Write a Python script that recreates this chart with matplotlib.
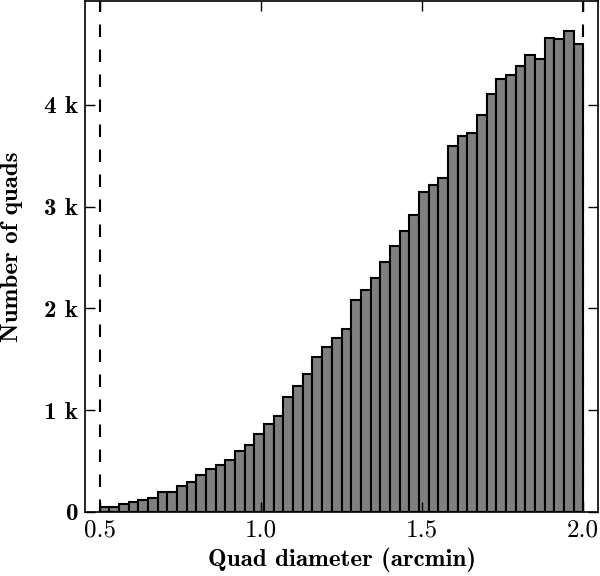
import matplotlib.pyplot as plt
import numpy as np

bin_lo = 0.5
bin_width = 0.03
# counts per bin, in thousands
counts_k = [0.05, 0.05, 0.08, 0.10, 0.12, 0.14, 0.20, 0.20, 0.26, 0.29,
            0.36, 0.42, 0.46, 0.51, 0.60, 0.66, 0.77, 0.86, 0.94, 1.13,
            1.24, 1.36, 1.52, 1.62, 1.71, 1.80, 2.08, 2.18, 2.30, 2.46,
            2.61, 2.76, 2.92, 3.14, 3.21, 3.28, 3.60, 3.69, 3.72, 3.90,
            4.11, 4.25, 4.29, 4.38, 4.49, 4.45, 4.66, 4.65, 4.73, 4.60]
counts = np.array(counts_k) * 1000
limits = [0.5, 2.0]
yticks = [0, 1000, 2000, 3000, 4000]
ytick_labels = ["0", "1 k", "2 k", "3 k", "4 k"]
xticks = [0.5, 1.0, 1.5, 2.0]

fig = plt.figure(figsize=(6, 5.76), dpi=100)
ax = fig.add_axes([85 / 600, 1 - 512 / 576, 513 / 600, 511 / 576])

lefts = bin_lo + bin_width * np.arange(len(counts))
ax.bar(lefts, counts, width=bin_width, align="edge", color="#808080",
       edgecolor="black", linewidth=1.5)
for x in limits:
    ax.axvline(x, color="black", linestyle=(0, (6, 6)), linewidth=1.5)

ax.set_xlim(0.454, 2.046)
ax.set_ylim(0, 5020)
ax.set_xticks(xticks)
ax.set_xticklabels([f"{v:.1f}" for v in xticks], family="cmr10", fontsize=18)
ax.set_yticks(yticks)
ax.set_yticklabels(ytick_labels, family="cmb10", fontsize=18)
ax.tick_params(direction="in", top=True, right=True, length=7, width=1, pad=5)
for s in ax.spines.values():
    s.set_linewidth(1.2)

ax.set_xlabel("Quad diameter (arcmin)", family="cmb10", fontsize=18)
ax.set_ylabel("Number of quads", family="cmb10", fontsize=18)
ax.xaxis.set_label_coords(0.5, -0.07)
ax.yaxis.set_label_coords(-0.12, 0.52)

fig.savefig("out.png")
